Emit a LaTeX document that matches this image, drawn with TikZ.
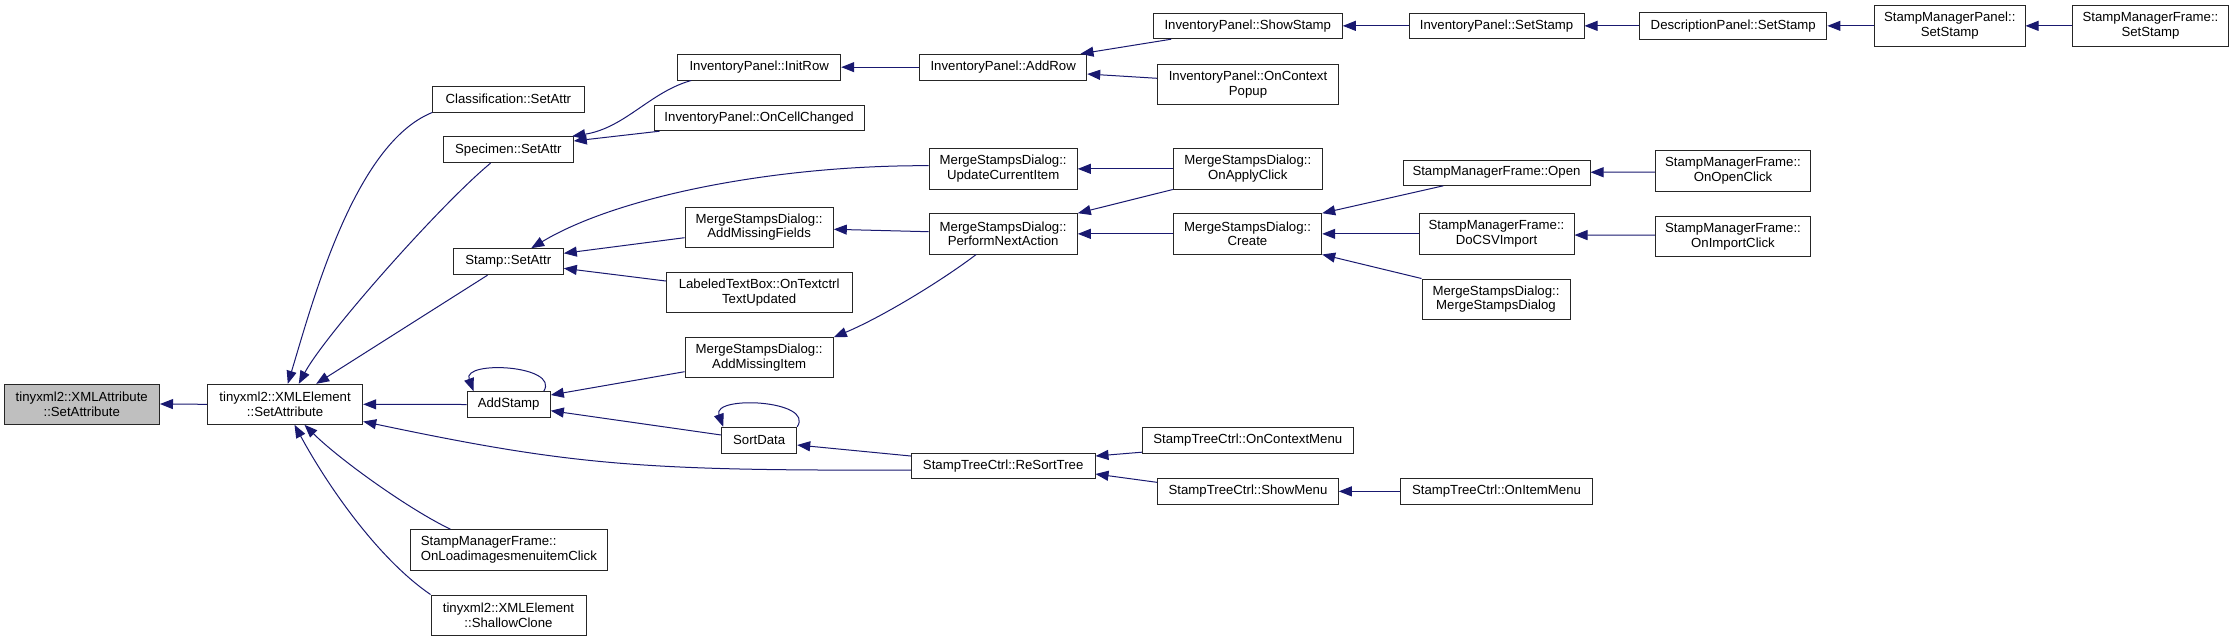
\documentclass[tikz,border=0pt]{standalone}
\usepackage{fontspec}
\setmainfont{Liberation Sans}
\usetikzlibrary{arrows.meta,calc}
\definecolor{edgeblue}{HTML}{191970}
\definecolor{rootgray}{HTML}{BFBFBF}
\newcommand\mkbox[7][]{\node[box,#1,minimum width={#5pt-#3pt},minimum height={#6pt-#4pt}] (#2) at ({(#3+#5)/2},{(#4+#6)/2}) {#7};}
\begin{document}
\begin{tikzpicture}[x=1pt,y=-1pt,
  box/.style={draw=black!85, line width=1pt, fill=white, inner sep=0pt, align=center,
    font=\fontsize{13.2}{14.7}\selectfont},
  edge/.style={draw=edgeblue, line width=1pt, -{Triangle[length=13pt,width=10pt]}}]
\fill[white] (0,0) rectangle (2233,641);
\useasboundingbox (0,0) rectangle (2233,641);

% nodes
\mkbox[fill=rootgray]{attr}{4}{384}{159.5}{424}{tinyxml2::XMLAttribute\\::SetAttribute}
\mkbox{elem}{207.5}{384.3}{362.7}{424.3}{tinyxml2::XMLElement\\::SetAttribute}
\mkbox{cls}{432.7}{86.3}{584}{112}{Classification::SetAttr}
\mkbox{spec}{443.3}{136.7}{573.3}{162.7}{Specimen::SetAttr}
\mkbox{stamp}{453.3}{248.7}{563.3}{274.7}{Stamp::SetAttr}
\mkbox{addstamp}{467}{391.7}{550.3}{417.3}{AddStamp}
\mkbox[align=left]{onload}{410.7}{529.7}{607}{570}{StampManagerFrame::\\OnLoadimagesmenuitemClick}
\mkbox{shallow}{431}{595}{586}{635}{tinyxml2::XMLElement\\::ShallowClone}
\mkbox{initrow}{677.7}{54.3}{840.7}{80}{InventoryPanel::InitRow}
\mkbox{oncell}{654.3}{105.3}{864}{130.7}{InventoryPanel::OnCellChanged}
\mkbox{amf}{685}{207}{833.3}{247.3}{MergeStampsDialog::\\AddMissingFields}
\mkbox{ltb}{666.3}{272.7}{852}{312.7}{LabeledTextBox::OnTextctrl\\TextUpdated}
\mkbox{ami}{685}{337.7}{833.3}{377.7}{MergeStampsDialog::\\AddMissingItem}
\mkbox{sortdata}{721.7}{427.3}{796.7}{453.3}{SortData}
\mkbox{addrow}{919.7}{54.3}{1086.7}{80}{InventoryPanel::AddRow}
\mkbox{uci}{929}{148.7}{1077.3}{189}{MergeStampsDialog::\\UpdateCurrentItem}
\mkbox{pna}{929}{213.7}{1077.3}{254}{MergeStampsDialog::\\PerformNextAction}
\mkbox{resort}{911.3}{453.3}{1095}{478.7}{StampTreeCtrl::ReSortTree}
\mkbox{showstamp}{1153.3}{13}{1342.3}{38.7}{InventoryPanel::ShowStamp}
\mkbox{ocp}{1157.7}{64.3}{1338.3}{104.7}{InventoryPanel::OnContext\\Popup}
\mkbox{apply}{1173.3}{148.7}{1322.3}{189}{MergeStampsDialog::\\OnApplyClick}
\mkbox{create}{1173.3}{213.7}{1321.7}{254}{MergeStampsDialog::\\Create}
\mkbox{ocm}{1142.3}{427.7}{1353.3}{453.3}{StampTreeCtrl::OnContextMenu}
\mkbox{showmenu}{1157.7}{478.7}{1338.3}{504}{StampTreeCtrl::ShowMenu}
\mkbox{ipset}{1409}{13}{1584}{38.7}{InventoryPanel::SetStamp}
\mkbox{open}{1403}{160}{1590}{185.3}{StampManagerFrame::Open}
\mkbox{csv}{1419}{213.7}{1574}{254}{StampManagerFrame::\\DoCSVImport}
\mkbox{msd}{1422}{279}{1570}{319}{MergeStampsDialog::\\MergeStampsDialog}
\mkbox{oim}{1400.7}{478.7}{1592.3}{504}{StampTreeCtrl::OnItemMenu}
\mkbox{dpset}{1639.6}{12.7}{1826.9}{39}{DescriptionPanel::SetStamp}
\mkbox{openclick}{1655.3}{150.7}{1810.7}{191}{StampManagerFrame::\\OnOpenClick}
\mkbox{importclick}{1655.3}{216.3}{1810.7}{256.7}{StampManagerFrame::\\OnImportClick}
\mkbox{smpset}{1874.5}{5.7}{2025}{46}{StampManagerPanel::\\SetStamp}
\mkbox{smfset}{2072.8}{5.7}{2228.2}{46}{StampManagerFrame::\\SetStamp}

% edges
\draw[edge] (elem.west) -- (attr.east);
\draw[edge] (cls.south west) .. controls (354,144) and (312,304) .. ($(elem.north west)+(80.8,0)$);
\draw[edge] ($(spec.south west)+(47.7,0)$) .. controls (440,205) and (325,335) .. ($(elem.north west)+(91.8,0)$);
\draw[edge] ($(stamp.south west)+(34.7,0)$) -- ($(elem.north west)+(109.2,0)$);
\draw[edge] (addstamp.west) -- (elem.east);
\draw[edge] ($(resort.west)+(0,4)$) .. controls (640,471) and (570,465) .. ($(elem.south east)+(0,-3.3)$);
\draw[edge] ($(onload.north west)+(40.3,0)$) .. controls (410,510) and (340,460) .. ($(elem.south west)+(97.5,0)$);
\draw[edge] (shallow.north west) .. controls (380,560) and (330,490) .. ($(elem.south west)+(87.5,0)$);

\draw[edge] ($(initrow.south west)+(14,0)$) .. controls (650,92) and (625,128) .. ($(spec.north east)+(-1.6,0)$);
\draw[edge] ($(oncell.south west)+(5.7,0)$) -- ($(spec.east)+(0,-8.7)$);
\draw[edge] (addrow.west) -- (initrow.east);
\draw[edge] ($(uci.west)+(0,-3.15)$) .. controls (780,165) and (620,195) .. ($(stamp.north west)+(78.4,0)$);
\draw[edge] ($(amf.west)+(0,10.55)$) -- ($(stamp.east)+(0,-8.4)$);
\draw[edge] ($(ltb.west)+(0,-11.7)$) -- ($(stamp.east)+(0,6.6)$);
\draw[edge] ($(pna.west)+(0,-2.15)$) -- ($(amf.east)+(0,2.15)$);
\draw[edge] ($(pna.south west)+(47.7,0)$) .. controls (940,282) and (880,318) .. (ami.north east);
\draw[edge] ($(ami.west)+(0,14)$) -- ($(addstamp.east)+(0,-9.5)$);
\draw[edge] ($(sortdata.west)+(0,-5.3)$) -- ($(addstamp.east)+(0,6.2)$);
\draw[edge] ($(addstamp.north east)+(-7,0)$) .. controls (560,365) and (462,360) .. ($(addstamp.north west)+(7,0)$);
\draw[edge] (sortdata.north east) .. controls (815,400) and (712,395) .. ($(sortdata.north west)+(2,0)$);
\draw[edge] ($(resort.west)+(0,-10)$) -- ($(sortdata.east)+(0,4.7)$);

\draw[edge] ($(showstamp.south west)+(18.4,0)$) -- ($(addrow.north east)+(-6.7,0)$);
\draw[edge] ($(ocp.west)+(0,-6.2)$) -- ($(addrow.east)+(0,6.85)$);
\draw[edge] (apply.west) -- (uci.east);
\draw[edge] (apply.south west) -- (pna.north east);
\draw[edge] (create.west) -- (pna.east);
\draw[edge] ($(ocm.south west)+(0,-1.6)$) -- ($(resort.east)+(0,-10)$);
\draw[edge] ($(showmenu.west)+(0,-9)$) -- ($(resort.east)+(0,8)$);

\draw[edge] (ipset.west) -- (showstamp.east);
\draw[edge] ($(open.south west)+(40.8,0)$) -- (create.north east);
\draw[edge] (csv.west) -- (create.east);
\draw[edge] (msd.north west) -- (create.south east);
\draw[edge] (oim.west) -- (showmenu.east);

\draw[edge] (dpset.west) -- (ipset.east);
\draw[edge] ($(openclick.west)+(0,1.3)$) -- ($(open.east)+(0,-0.4)$);
\draw[edge] ($(importclick.west)+(0,-1.3)$) -- ($(csv.east)+(0,1.2)$);
\draw[edge] (smpset.west) -- (dpset.east);
\draw[edge] (smfset.west) -- (smpset.east);
\end{tikzpicture}
\end{document}
